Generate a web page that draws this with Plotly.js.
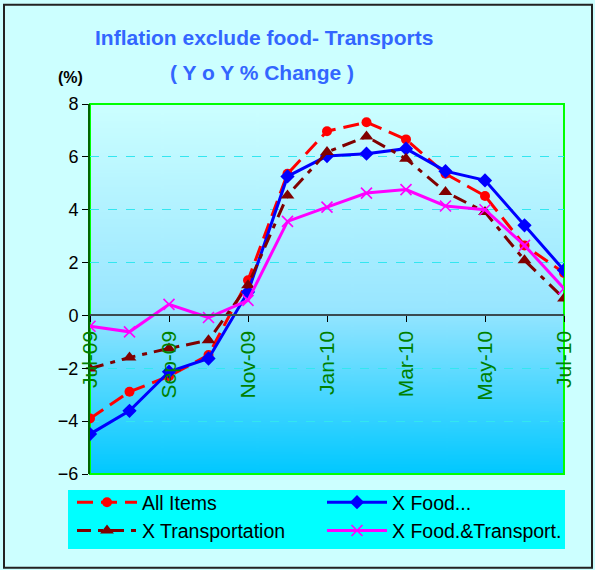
<!DOCTYPE html>
<html><head><meta charset="utf-8">
<script src="https://cdn.plot.ly/plotly-3.0.1.min.js"></script>
<style>body{margin:0;background:#fff}#chart{width:595px;height:570px}</style>
</head><body><div id="chart"></div>
<script>
const months = ['Jul-09','Aug-09','Sep-09','Oct-09','Nov-09','Dec-09','Jan-10','Feb-10','Mar-10','Apr-10','May-10','Jun-10','Jul-10'];
const tickMonths = ['Jul-09','Sep-09','Nov-09','Jan-10','Mar-10','May-10','Jul-10'];
const allItems = [-3.90,-2.89,-2.30,-1.50,1.33,5.36,6.97,7.31,6.66,5.36,4.52,2.65,1.61];
const xFood = [-4.49,-3.61,-2.13,-1.63,0.89,5.26,6.03,6.12,6.31,5.46,5.11,3.41,1.71];
const xTransport = [-2.01,-1.59,-1.25,-0.94,1.14,4.54,6.18,6.77,5.93,4.67,3.91,2.09,0.64];
const xFoodTransport = [-0.41,-0.62,0.42,-0.08,0.57,3.56,4.10,4.63,4.76,4.14,4.00,2.65,1.02];

// gradient background image
const cv = document.createElement('canvas');
cv.width = 10; cv.height = 300;
const ctx = cv.getContext('2d');
const g = ctx.createLinearGradient(0,0,0,300);
g.addColorStop(0,'#CCFFFF');
g.addColorStop(0.55,'#99E6FF');
g.addColorStop(1,'#00C8FF');
ctx.fillStyle = g; ctx.fillRect(0,0,10,300);
const bg = cv.toDataURL();

const L=90, R=31, T=103.5, B=96, W=595, H=570;
const pw = W-L-R, ph = H-T-B;
const px = x => (x-L)/pw;
const py = y => (H-B-y)/ph;

const traces = [
  {x: months, y: allItems, name: 'All Items', mode: 'lines+markers', legend: 'legend',
   line: {color: '#FF0000', width: 3, dash: '16px,8px'},
   marker: {symbol: 'circle', size: 10, color: '#FF0000'}},
  {x: months, y: xFood, name: 'X Food...', mode: 'lines+markers', legend: 'legend2',
   line: {color: '#0000FF', width: 3},
   marker: {symbol: 'diamond', size: 11, color: '#0000FF'}},
  {x: months, y: xTransport, name: 'X Transportation', mode: 'lines+markers', legend: 'legend',
   line: {color: '#800000', width: 3, dash: '14px,7px,5px,7px'},
   marker: {symbol: 'triangle-up', size: 12, color: '#800000'}},
  {x: months, y: xFoodTransport, name: 'X Food.&Transport.', mode: 'lines+markers', legend: 'legend2',
   line: {color: '#FF00FF', width: 3},
   marker: {symbol: 'x-thin', size: 11, color: '#FF00FF', line: {color: '#FF00FF', width: 1.6}}}
];

const legendBase = {
  orientation: 'v', y: py(483), xanchor: 'left', yanchor: 'top',
  bgcolor: 'rgba(0,0,0,0)', borderwidth: 0, font: {size: 19.5, color: '#000'},
  traceorder: 'normal', itemwidth: 60, tracegroupgap: 0
};

const layout = {
  width: W, height: H,
  margin: {l: L, r: R, t: T, b: B, pad: 0, autoexpand: false},
  paper_bgcolor: '#CCFFFF',
  plot_bgcolor: 'rgba(0,0,0,0)',
  font: {family: 'Arial, Liberation Sans, sans-serif', color: '#000'},
  showlegend: true,
  xaxis: {
    type: 'category', range: [0, 12], categoryorder: 'array', categoryarray: months,
    tickvals: tickMonths, ticktext: tickMonths,
    tickangle: -90, tickfont: {size: 21, color: '#008000'},
    ticks: 'outside', ticklen: 6, tickcolor: '#000',
    showline: true, linecolor: '#3A4A50', linewidth: 2,
    showgrid: false, zeroline: false,
    anchor: 'free', position: 6/14
  },
  yaxis: {
    range: [-6, 8], dtick: 2, tickfont: {size: 18, color: '#000'},
    ticks: 'outside', ticklen: 6, tickcolor: '#000',
    showline: true, linecolor: '#006600', linewidth: 2,
    showgrid: true, gridcolor: '#33E6F0', griddash: 'dash', gridwidth: 1,
    zeroline: false
  },
  legend: Object.assign({}, legendBase, {x: px(72)}),
  legend2: Object.assign({}, legendBase, {x: px(322)}),
  images: [{source: bg, xref: 'paper', yref: 'paper', x: 0, y: 1, sizex: 1, sizey: 1,
            xanchor: 'left', yanchor: 'top', sizing: 'stretch', layer: 'below'}],
  shapes: [
    {type: 'rect', xref: 'paper', yref: 'paper', x0: 0, x1: 1, y0: 0, y1: 1,
     line: {color: '#00FF00', width: 2}, layer: 'below'},
    {type: 'rect', xref: 'paper', yref: 'paper', x0: px(68), x1: px(565), y0: py(549), y1: py(490),
     fillcolor: '#00FFFF', line: {width: 0}, layer: 'below'},
    {type: 'rect', xref: 'paper', yref: 'paper', x0: px(4), x1: px(592), y0: py(568), y1: py(4),
     line: {color: '#222', width: 2}, layer: 'above'}
  ],
  annotations: [
    {text: '<b>Inflation exclude food- Transports</b>', xref: 'paper', yref: 'paper',
     x: px(264), y: py(37), xanchor: 'center', yanchor: 'middle', showarrow: false,
     font: {size: 21, color: '#3366FF'}},
    {text: '<b>( Y o Y % Change )</b>', xref: 'paper', yref: 'paper',
     x: px(262), y: py(72), xanchor: 'center', yanchor: 'middle', showarrow: false,
     font: {size: 21, color: '#3366FF'}},
    {text: '<b>(%)</b>', xref: 'paper', yref: 'paper',
     x: px(70), y: py(77), xanchor: 'center', yanchor: 'middle', showarrow: false,
     font: {size: 16, color: '#000'}}
  ]
};

Plotly.newPlot('chart', traces, layout, {displayModeBar: false, staticPlot: true});
</script></body></html>
